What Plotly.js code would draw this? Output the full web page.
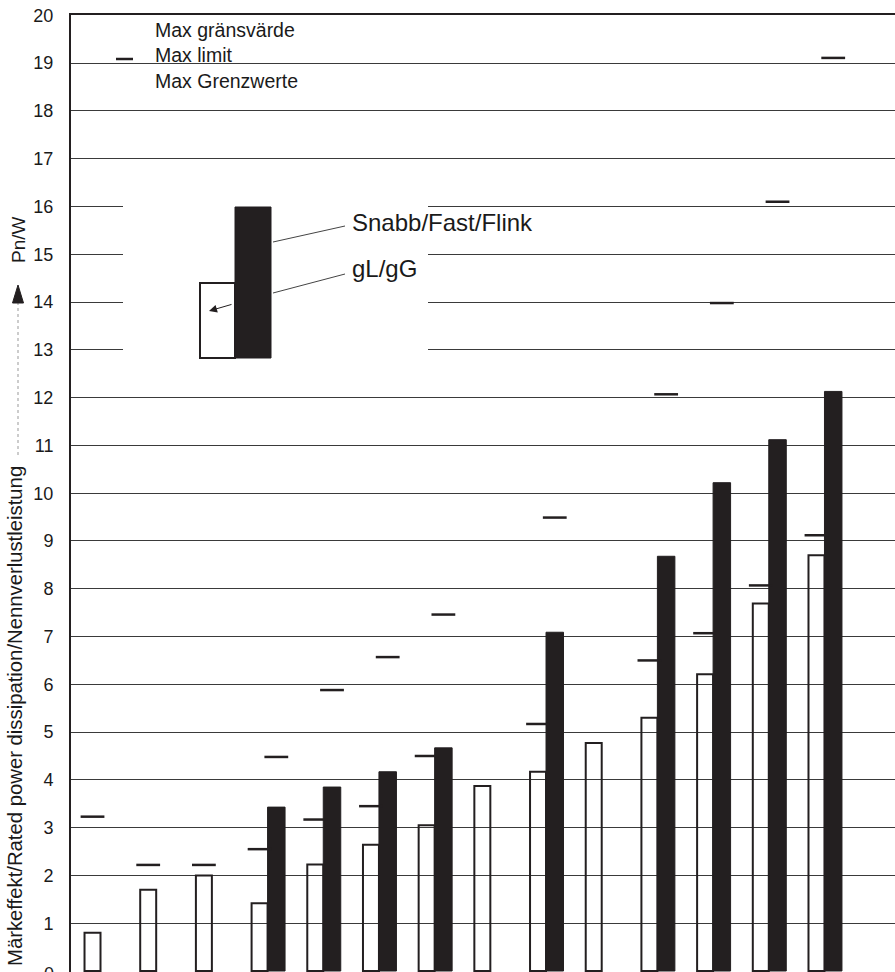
<!DOCTYPE html>
<html>
<head>
<meta charset="utf-8">
<script src="https://cdn.plot.ly/plotly-3.0.1.min.js"></script>
<style>html,body{margin:0;padding:0;background:#fff;}#chart{width:895px;height:972px;}</style>
</head>
<body>
<div id="chart"></div>
<script>
// ---- data ----
const positions = [1, 2, 3, 4, 5, 6, 7, 8, 9, 10, 11, 12, 13, 14];
const gLValues   = [0.80, 1.70, 2.00, 1.42, 2.23, 2.64, 3.05, 3.87, 4.17, 4.77, 5.30, 6.21, 7.69, 8.70];
const fastValues = [null, null, null, 3.43, 3.85, 4.17, 4.67, null, 7.09, null, 8.68, 10.22, 11.12, 12.13];
const gLMax      = [3.23, 2.22, 2.22, 2.55, 3.17, 3.45, 4.50, null, 5.17, null, 6.50, 7.07, 8.07, 9.12];
const fastMax    = [null, null, null, 4.48, 5.88, 6.57, 7.46, null, 9.49, null, 12.07, 13.98, 16.10, 19.11];
const yTickValues = [0,1,2,3,4,5,6,7,8,9,10,11,12,13,14,15,16,17,18,19,20];
const yTickLabels = yTickValues.map(String);
const legendMaxLines = ['Max gränsvärde', 'Max limit', 'Max Grenzwerte'];
const seriesNames = ['Snabb/Fast/Flink', 'gL/gG'];
const yTitle = 'Märkeffekt/Rated power dissipation/Nennverlustleistung';
const yUnit = 'Pn/W';

// ---- layout helpers (pixel -> axis / paper) ----
const W = 895, H = 972, ML = 71, MT = 15;
const X = px => 1 + (px - 100.5) / 55.69;
const Y = py => (971 - py) / 47.78;
const PX = px => (px - ML) / (W - ML);
const PY = py => (H - py) / (H - MT);

const ink = '#231f20';
const font = 'Liberation Sans, Arial, Helvetica, sans-serif';
const wW = 0.287, bW = 0.314;

const traces = [
  {
    type: 'bar', name: seriesNames[1], x: positions, y: gLValues,
    offset: -wW, width: wW,
    marker: {color: 'rgba(255,255,255,0)', line: {color: ink, width: 2}},
    hoverinfo: 'skip'
  },
  {
    type: 'bar', name: seriesNames[0], x: positions, y: fastValues,
    offset: 0, width: bW,
    marker: {color: ink, line: {color: ink, width: 1}},
    hoverinfo: 'skip'
  },
  {
    type: 'scatter', mode: 'markers', name: 'max gL',
    x: positions.map(p => p - wW / 2), y: gLMax,
    marker: {symbol: 'line-ew', size: 17, line: {color: ink, width: 2.5}},
    hoverinfo: 'skip', cliponaxis: false
  },
  {
    type: 'scatter', mode: 'markers', name: 'max fast',
    x: positions.map(p => p + bW / 2), y: fastMax,
    marker: {symbol: 'line-ew', size: 17, line: {color: ink, width: 2.5}},
    hoverinfo: 'skip', cliponaxis: false
  }
];

const shapes = [
  // gap in gridlines around the inset legend
  {type: 'rect', xref: 'x', yref: 'y', x0: X(123), x1: X(428), y0: Y(376), y1: Y(184),
   fillcolor: '#fff', line: {width: 0}, layer: 'above'},
  // inset legend boxes
  {type: 'rect', xref: 'x', yref: 'y', x0: X(200), x1: X(235), y0: Y(358), y1: Y(283),
   fillcolor: '#fff', line: {color: ink, width: 2}, layer: 'above'},
  {type: 'rect', xref: 'x', yref: 'y', x0: X(235), x1: X(271), y0: Y(358), y1: Y(207),
   fillcolor: ink, line: {color: ink, width: 1}, layer: 'above'},
  // leader lines
  {type: 'line', xref: 'x', yref: 'y', x0: X(273), y0: Y(242), x1: X(345), y1: Y(226),
   line: {color: '#444', width: 1}, layer: 'above'},
  {type: 'line', xref: 'x', yref: 'y', x0: X(273), y0: Y(293), x1: X(345), y1: Y(274),
   line: {color: '#444', width: 1}, layer: 'above'},
  // max limit legend dash
  {type: 'line', xref: 'x', yref: 'y', x0: X(116), x1: X(133), y0: Y(59), y1: Y(59),
   line: {color: ink, width: 2.5}, layer: 'above'},
  // Pn/W arrow + dotted shaft
  {type: 'line', xref: 'paper', yref: 'paper', x0: PX(18), x1: PX(18), y0: PY(302), y1: PY(458),
   line: {color: '#999', width: 1, dash: 'dot'}},
  {type: 'path', xref: 'paper', yref: 'paper',
   path: `M ${PX(12.5)} ${PY(303)} L ${PX(23.5)} ${PY(303)} L ${PX(18)} ${PY(285)} Z`,
   fillcolor: ink, line: {color: ink, width: 1}}
];

const ann = (text, x, y, size, extra) => Object.assign({
  text, x, y, xref: 'x', yref: 'y', showarrow: false, xanchor: 'left', yanchor: 'middle',
  font: {family: font, size, color: '#1a1a1a'}
}, extra || {});

const annotations = [
  ann(legendMaxLines[0], X(153), Y(30), 19.5),
  ann(legendMaxLines[1], X(153), Y(55), 19.5),
  ann(legendMaxLines[2], X(153), Y(81), 19.5),
  ann(seriesNames[0], X(350), Y(222), 24),
  ann(seriesNames[1], X(350), Y(268), 24),
  // arrow into the gL/gG box
  {text: '', x: X(209), y: Y(311), xref: 'x', yref: 'y', showarrow: true,
   ax: 24, ay: -7, arrowhead: 2, arrowsize: 1.6, arrowwidth: 1, arrowcolor: ink},
  // bottom "0" label, half cut off by the page edge as in the original
  {text: yTickLabels[0], xref: 'paper', yref: 'paper', x: PX(56), y: PY(974),
   showarrow: false, xanchor: 'right', yanchor: 'middle',
   font: {family: font, size: 18, color: '#1a1a1a'}},
  // y title pieces
  {text: yTitle, xref: 'paper', yref: 'paper', x: PX(15), y: PY(716), textangle: -90,
   showarrow: false, xanchor: 'center', yanchor: 'middle',
   font: {family: font, size: 20.3, color: '#1a1a1a'}},
  {text: yUnit, xref: 'paper', yref: 'paper', x: PX(18), y: PY(240), textangle: -90,
   showarrow: false, xanchor: 'center', yanchor: 'middle',
   font: {family: font, size: 19, color: '#1a1a1a'}}
];

const layout = {
  width: W, height: H,
  margin: {l: ML, r: 0, t: MT, b: 0, pad: 0},
  paper_bgcolor: '#fff', plot_bgcolor: '#fff',
  showlegend: false,
  barmode: 'overlay',
  xaxis: {
    range: [X(71), X(895)], showgrid: false, zeroline: false, showticklabels: false,
    ticks: '', showline: true, mirror: true, linecolor: ink, linewidth: 2, fixedrange: true
  },
  yaxis: {
    range: [Y(972), Y(15)], tickvals: yTickValues.slice(1), ticktext: yTickLabels.slice(1), ticks: '',
    tickfont: {family: font, size: 18, color: '#1a1a1a'}, ticklabelstandoff: 12,
    showgrid: true, gridcolor: '#3a3a3a', gridwidth: 1, zeroline: false,
    showline: true, linecolor: ink, linewidth: 2, automargin: false, fixedrange: true
  },
  shapes, annotations
};

Plotly.newPlot('chart', traces, layout, {displayModeBar: false, staticPlot: true});
</script>
</body>
</html>
